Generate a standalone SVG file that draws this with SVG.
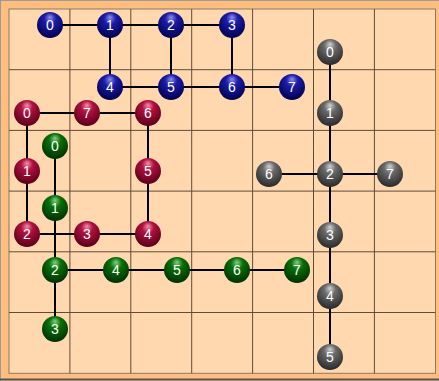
<svg xmlns="http://www.w3.org/2000/svg" width="439" height="381" viewBox="0 0 439 381">
<style>
.grid{stroke:#5e4c3a;stroke-width:1;fill:none}
.edge{stroke:#000;stroke-width:2;fill:none}
.lbl{font-family:"Liberation Sans",Arial,sans-serif;font-size:14px;fill:#fff;text-anchor:middle}
.b{fill:url(#gb)}.r{fill:url(#gr)}.g{fill:url(#gg)}.k{fill:url(#gk)}
</style>
<defs>
<radialGradient id="gb" cx="0.5" cy="0.35" r="0.65" fx="0.5" fy="0.2"><stop offset="0" stop-color="#8c8cf0"/><stop offset="0.35" stop-color="#1c1ca8"/><stop offset="1" stop-color="#000050"/></radialGradient>
<radialGradient id="gr" cx="0.5" cy="0.35" r="0.65" fx="0.5" fy="0.2"><stop offset="0" stop-color="#f090a8"/><stop offset="0.35" stop-color="#b01040"/><stop offset="1" stop-color="#5a0018"/></radialGradient>
<radialGradient id="gg" cx="0.5" cy="0.35" r="0.65" fx="0.5" fy="0.2"><stop offset="0" stop-color="#80d080"/><stop offset="0.35" stop-color="#0a700a"/><stop offset="1" stop-color="#003000"/></radialGradient>
<radialGradient id="gk" cx="0.5" cy="0.35" r="0.65" fx="0.5" fy="0.2"><stop offset="0" stop-color="#d0d0d0"/><stop offset="0.35" stop-color="#6a6a6a"/><stop offset="1" stop-color="#2a2a2a"/></radialGradient>
</defs>
<rect x="0" y="0" width="439" height="381" fill="#ffbe7e"/>
<line x1="0" y1="0.5" x2="439" y2="0.5" stroke="#9a9a9a"/>
<line x1="0.5" y1="0" x2="0.5" y2="381" stroke="#9a9a9a"/>
<line x1="0" y1="379.5" x2="439" y2="379.5" stroke="#555" stroke-width="2"/>
<rect x="9" y="9" width="426.5" height="364.3" fill="#ffd8b0" stroke="#8a7a6a" stroke-width="1"/>
<g id="grid" class="grid">
<line x1="69.9" y1="9" x2="69.9" y2="373.3"/>
<line x1="130.8" y1="9" x2="130.8" y2="373.3"/>
<line x1="191.7" y1="9" x2="191.7" y2="373.3"/>
<line x1="252.6" y1="9" x2="252.6" y2="373.3"/>
<line x1="313.5" y1="9" x2="313.5" y2="373.3"/>
<line x1="374.4" y1="9" x2="374.4" y2="373.3"/>
<line x1="9" y1="69.7" x2="435.5" y2="69.7"/>
<line x1="9" y1="130.4" x2="435.5" y2="130.4"/>
<line x1="9" y1="191.1" x2="435.5" y2="191.1"/>
<line x1="9" y1="251.8" x2="435.5" y2="251.8"/>
<line x1="9" y1="312.5" x2="435.5" y2="312.5"/>
</g>
<g id="connectors" class="edge">
<line x1="50" y1="25" x2="110" y2="25"/>
<line x1="110" y1="25" x2="171" y2="25"/>
<line x1="171" y1="25" x2="232" y2="25"/>
<line x1="110" y1="25" x2="110" y2="87"/>
<line x1="171" y1="25" x2="171" y2="87"/>
<line x1="232" y1="25" x2="232" y2="87"/>
<line x1="110" y1="87" x2="292" y2="87"/>
<line x1="27" y1="113" x2="148" y2="113"/>
<line x1="27" y1="113" x2="27" y2="234"/>
<line x1="148" y1="113" x2="148" y2="234"/>
<line x1="27" y1="234" x2="148" y2="234"/>
<line x1="55" y1="146" x2="55" y2="329"/>
<line x1="55" y1="270" x2="297" y2="270"/>
<line x1="330" y1="52" x2="330" y2="357"/>
<line x1="269" y1="174" x2="390" y2="174"/>
</g>
<g id="blue-0"><circle class="b" cx="50" cy="25" r="13"/><text class="lbl" x="50" y="30">0</text></g>
<g id="blue-1"><circle class="b" cx="110" cy="25" r="13"/><text class="lbl" x="110" y="30">1</text></g>
<g id="blue-2"><circle class="b" cx="171" cy="25" r="13"/><text class="lbl" x="171" y="30">2</text></g>
<g id="blue-3"><circle class="b" cx="232" cy="25" r="13"/><text class="lbl" x="232" y="30">3</text></g>
<g id="blue-4"><circle class="b" cx="110" cy="87" r="13"/><text class="lbl" x="110" y="92">4</text></g>
<g id="blue-5"><circle class="b" cx="171" cy="87" r="13"/><text class="lbl" x="171" y="92">5</text></g>
<g id="blue-6"><circle class="b" cx="232" cy="87" r="13"/><text class="lbl" x="232" y="92">6</text></g>
<g id="blue-7"><circle class="b" cx="292" cy="87" r="13"/><text class="lbl" x="292" y="92">7</text></g>
<g id="red-0"><circle class="r" cx="27" cy="113" r="13"/><text class="lbl" x="27" y="118">0</text></g>
<g id="red-7"><circle class="r" cx="87" cy="113" r="13"/><text class="lbl" x="87" y="118">7</text></g>
<g id="red-6"><circle class="r" cx="148" cy="113" r="13"/><text class="lbl" x="148" y="118">6</text></g>
<g id="red-1"><circle class="r" cx="27" cy="171" r="13"/><text class="lbl" x="27" y="176">1</text></g>
<g id="red-5"><circle class="r" cx="148" cy="171" r="13"/><text class="lbl" x="148" y="176">5</text></g>
<g id="red-2"><circle class="r" cx="27" cy="234" r="13"/><text class="lbl" x="27" y="239">2</text></g>
<g id="red-3"><circle class="r" cx="87" cy="234" r="13"/><text class="lbl" x="87" y="239">3</text></g>
<g id="red-4"><circle class="r" cx="148" cy="234" r="13"/><text class="lbl" x="148" y="239">4</text></g>
<g id="green-0"><circle class="g" cx="55" cy="146" r="13"/><text class="lbl" x="55" y="151">0</text></g>
<g id="green-1"><circle class="g" cx="55" cy="208" r="13"/><text class="lbl" x="55" y="213">1</text></g>
<g id="green-2"><circle class="g" cx="55" cy="270" r="13"/><text class="lbl" x="55" y="275">2</text></g>
<g id="green-3"><circle class="g" cx="55" cy="329" r="13"/><text class="lbl" x="55" y="334">3</text></g>
<g id="green-4"><circle class="g" cx="116" cy="270" r="13"/><text class="lbl" x="116" y="275">4</text></g>
<g id="green-5"><circle class="g" cx="177" cy="270" r="13"/><text class="lbl" x="177" y="275">5</text></g>
<g id="green-6"><circle class="g" cx="237" cy="270" r="13"/><text class="lbl" x="237" y="275">6</text></g>
<g id="green-7"><circle class="g" cx="297" cy="270" r="13"/><text class="lbl" x="297" y="275">7</text></g>
<g id="gray-0"><circle class="k" cx="330" cy="52" r="13"/><text class="lbl" x="330" y="57">0</text></g>
<g id="gray-1"><circle class="k" cx="330" cy="113" r="13"/><text class="lbl" x="330" y="118">1</text></g>
<g id="gray-2"><circle class="k" cx="330" cy="174" r="13"/><text class="lbl" x="330" y="179">2</text></g>
<g id="gray-6"><circle class="k" cx="269" cy="174" r="13"/><text class="lbl" x="269" y="179">6</text></g>
<g id="gray-7"><circle class="k" cx="390" cy="174" r="13"/><text class="lbl" x="390" y="179">7</text></g>
<g id="gray-3"><circle class="k" cx="330" cy="235" r="13"/><text class="lbl" x="330" y="240">3</text></g>
<g id="gray-4"><circle class="k" cx="330" cy="296" r="13"/><text class="lbl" x="330" y="301">4</text></g>
<g id="gray-5"><circle class="k" cx="330" cy="357" r="13"/><text class="lbl" x="330" y="362">5</text></g>
</svg>
